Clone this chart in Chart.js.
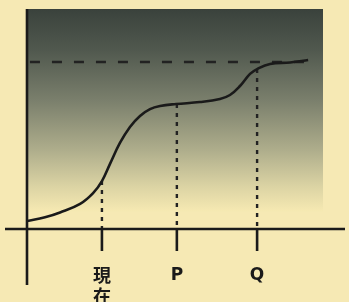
<!DOCTYPE html>
<html><head><meta charset="utf-8">
<script src="https://cdn.jsdelivr.net/npm/chart.js@4/dist/chart.umd.min.js"></script>
<style>html,body{margin:0;padding:0;background:#f6e9b4;}#wrap{width:349px;height:302px;position:relative;}</style>
</head><body><div id="wrap"><canvas id="c" width="349" height="302"></canvas></div>
<script>
// Curve (time vs level), arbitrary units
const curveX = [0, 6.1, 11.2, 18.0, 22.4, 25.4, 28.1, 31.5, 34.9, 38.3, 41.7, 45.1, 50.5, 58.6, 65.4, 68.8, 72.2, 75.6, 78.0, 82.4, 89.2, 95.3];
const curveY = [3.6, 5.3, 7.5, 11.4, 16.3, 21.8, 29.5, 39.1, 46.4, 51.4, 54.5, 55.9, 56.8, 57.7, 59.1, 60.9, 65.0, 70.5, 72.7, 75.0, 75.7, 76.8];
// Target (dashed) level
const targetLevel = 75.9;
const targetRange = [1.0, 95.9];
// Marker positions on time axis
const markerX = [25.4, 50.8, 78.0];
const markerLevel = [21.8, 56.8, 72.7];
const markerLabels = [['現','在'], 'P', 'Q'];

const ink = '#1a1a1a';
const datasets = [{
  data: curveX.map((x,i)=>({x, y: curveY[i]})),
  borderColor: ink, borderWidth: 2.6, pointRadius: 0,
  tension: 0.4, fill: false
},{
  data: targetRange.map(x=>({x, y: targetLevel})),
  borderColor: '#222', borderWidth: 2.4, pointRadius: 0, borderDash: [10, 12]
}];
markerX.forEach((x,i)=>{
  datasets.push({data: [{x, y: markerLevel[i]}, {x, y: 0}],
    borderColor: '#222', borderWidth: 2.4, pointRadius: 0, borderDash: [4, 5]});
});

const bgPlugin = {
  id: 'bg',
  beforeDatasetsDraw(chart) {
    const {ctx, chartArea: a} = chart;
    const y = chart.scales.y;
    const bottom = y.getPixelForValue(8);
    const g = ctx.createLinearGradient(0, a.top, 0, bottom);
    g.addColorStop(0, 'rgb(58,66,60)');
    g.addColorStop(0.2, 'rgb(80,88,78)');
    g.addColorStop(0.45, 'rgb(122,127,108)');
    g.addColorStop(0.7, 'rgb(175,174,140)');
    g.addColorStop(0.88, 'rgb(220,212,164)');
    g.addColorStop(1, 'rgb(246,233,178)');
    ctx.save();
    ctx.fillStyle = g;
    ctx.fillRect(a.left, a.top, a.right - a.left + 1, bottom - a.top);
    ctx.restore();
  },
  afterDraw(chart) {
    const {ctx, chartArea: a} = chart;
    const xs = chart.scales.x, ys = chart.scales.y;
    const y0 = ys.getPixelForValue(0), x0 = xs.getPixelForValue(0);
    ctx.save();
    ctx.strokeStyle = ink; ctx.lineWidth = 2.6; ctx.lineCap = 'butt';
    ctx.beginPath();
    ctx.moveTo(5, y0); ctx.lineTo(345, y0);
    ctx.moveTo(x0, a.top); ctx.lineTo(x0, y0 + 56);
    markerX.forEach(v=>{ const px = xs.getPixelForValue(v); ctx.moveTo(px, y0); ctx.lineTo(px, y0 + 22); });
    ctx.stroke();
    ctx.fillStyle = ink;
    ctx.textAlign = 'center'; ctx.textBaseline = 'middle';
    markerX.forEach((v,i)=>{
      const px = xs.getPixelForValue(v);
      const lab = markerLabels[i];
      if (Array.isArray(lab)) {
        ctx.font = '600 18px "Noto Sans CJK JP", "Noto Sans", sans-serif';
        lab.forEach((s,j)=> ctx.fillText(s, px, y0 + 46 + j*21));
      } else {
        ctx.font = 'bold 17px "DejaVu Sans", sans-serif';
        ctx.fillText(lab, px, y0 + 47);
      }
    });
    ctx.restore();
  }
};

new Chart(document.getElementById('c'), {
  type: 'line',
  data: { datasets },
  options: {
    responsive: false, animation: false,
    layout: { padding: { left: 27, right: 27, top: 9, bottom: 73 } },
    plugins: { legend: { display: false }, tooltip: { enabled: false } },
    scales: {
      x: { type: 'linear', min: 0, max: 100, display: false },
      y: { type: 'linear', min: 0, max: 100, display: false }
    }
  },
  plugins: [bgPlugin]
});
</script></body></html>
